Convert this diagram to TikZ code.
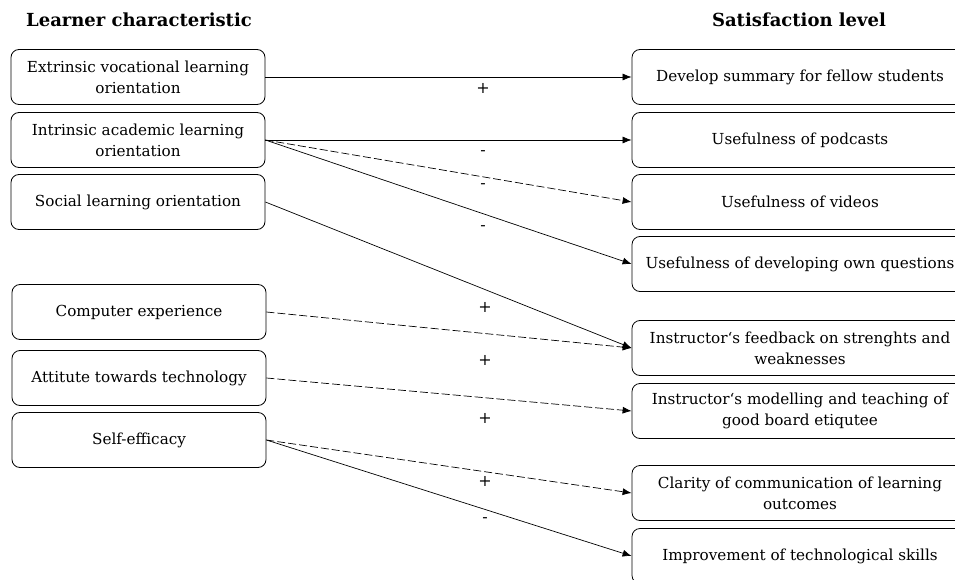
\documentclass[tikz,border=0pt]{standalone}
\usepackage{fontspec}
\setmainfont{DejaVu Serif}
\usetikzlibrary{arrows.meta}

\begin{document}
\begin{tikzpicture}[x=1pt,y=-1pt,
  box/.style={draw, rounded corners=8pt, line width=0.8pt, align=center, inner sep=0pt, font=\fontsize{15.2}{21}\selectfont},
  lbox/.style={box, minimum width=254pt, minimum height=55pt},
  rbox/.style={box, minimum width=336pt, minimum height=55pt},
  head/.style={font=\fontsize{18}{20}\selectfont\bfseries},
  sign/.style={font=\fontsize{16}{17}\selectfont},
  link/.style={line width=0.7pt, -{Latex[length=9pt,width=7pt]}},
  dlink/.style={link, dash pattern=on 8pt off 3pt}]
\useasboundingbox (0,0) rectangle (955,580);
\clip (0,0) rectangle (955,580);

% headings
\node[head] (lhead) at (139,20) {Learner characteristic};
\node[head] (rhead) at (799,20) {Satisfaction level};

% learner characteristics
\node[lbox] (ext) at (138,77) {Extrinsic vocational learning\\orientation};
\node[lbox] (intr) at (138,140) {Intrinsic academic learning\\orientation};
\node[lbox] (soc) at (138,202) {Social learning orientation};
\node[lbox] (comp) at (139,312) {Computer experience};
\node[lbox] (att) at (139,378) {Attitute towards technology};
\node[lbox] (self) at (139,440) {Self-efficacy};

% satisfaction levels
\node[rbox] (summ) at (800,77) {Develop summary for fellow students};
\node[rbox] (pod) at (800,140) {Usefulness of podcasts};
\node[rbox] (vid) at (800,202) {Usefulness of videos};
\node[rbox] (quest) at (800,264) {Usefulness of developing own questions};
\node[rbox] (feed) at (800,348) {Instructor‘s feedback on strenghts and\\weaknesses};
\node[rbox] (model) at (800,411) {Instructor‘s modelling and teaching of\\good board etiqutee};
\node[rbox] (clar) at (800,493) {Clarity of communication of learning\\outcomes};
\node[rbox] (impr) at (800,556) {Improvement of technological skills};

% effects
\draw[link] (ext.east) -- (summ.west);
\draw[link] (intr.east) -- (pod.west);
\draw[dlink] (intr.east) -- (vid.west);
\draw[link] (intr.east) -- (quest.west);
\draw[link] (soc.east) -- (feed.west);
\draw[dlink] (comp.east) -- (feed.west);
\draw[dlink] (att.east) -- (model.west);
\draw[dlink] (self.east) -- (clar.west);
\draw[link] (self.east) -- (impr.west);

% signs
\node[sign] (s1) at (483,88) {+};
\node[sign] (s2) at (483,153) {-};
\node[sign] (s3) at (483,186) {-};
\node[sign] (s4) at (483,228) {-};
\node[sign] (s5) at (485,307) {+};
\node[sign] (s6) at (485,360) {+};
\node[sign] (s7) at (485,418) {+};
\node[sign] (s8) at (485,481) {+};
\node[sign] (s9) at (485,520) {-};
\end{tikzpicture}
\end{document}
